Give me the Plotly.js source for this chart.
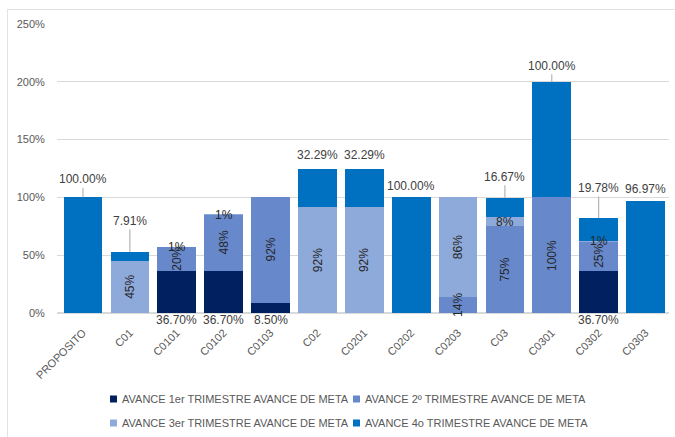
<!DOCTYPE html>
<html>
<head>
<meta charset="utf-8">
<script src="https://cdn.plot.ly/plotly-3.0.1.min.js"></script>
<style>
  html, body { margin: 0; padding: 0; background: #ffffff; }
  #wrap { position: relative; width: 675px; height: 437px; }
  #chart { position: absolute; left: 0; top: 0; width: 675px; height: 437px; }
  #frame { position: absolute; left: 7px; top: 9px; width: 668px; height: 428px;
           border-top: 1px solid #e3e3e3; border-left: 1px solid #e3e3e3;
           box-sizing: border-box; pointer-events: none; }
</style>
</head>
<body>
<div id="wrap"><div id="chart"></div><div id="frame"></div></div>
<script>
// ---- data ----
const categories = ['PROPOSITO','C01','C0101','C0102','C0103','C02','C0201','C0202','C0203','C03','C0301','C0302','C0303'];
const seriesNames = [
  'AVANCE 1er TRIMESTRE AVANCE DE META',
  'AVANCE 2º TRIMESTRE AVANCE DE META',
  'AVANCE 3er TRIMESTRE AVANCE DE META',
  'AVANCE 4o TRIMESTRE AVANCE DE META'
];
const q1 = [null, null, 36.7, 36.7, 8.5, null, null, null, null, null, null, 36.7, null];
const q2 = [null, null, 20, 48, 92, null, null, null, 14, 75, 100, 25, null];
const q3 = [null, 45, 0.6, 0.6, null, 92, 92, null, 86, 8, null, 0.6, null];
const q4 = [100, 7.91, null, null, null, 32.29, 32.29, 100, null, 16.67, 100, 19.78, 96.97];
const yTicks = [0, 50, 100, 150, 200, 250];

// ---- styling ----
const colors = ['#002060', '#6789cc', '#8eaadb', '#0070c0'];
const fontFam = '"Liberation Sans", Arial, sans-serif';
const q4Lift = [18, 31, 0, 0, 0, 14, 14, 11, 0, 21, 16, 30, 12];

const series = [q1, q2, q3, q4];
const traces = series.map((vals, i) => ({
  type: 'bar',
  name: seriesNames[i],
  x: categories,
  y: vals,
  marker: { color: colors[i] },
  hoverinfo: 'x+y+name',
  showlegend: false
}));

// label annotations computed from data
const annotations = [];
const labelFont = { family: fontFam, size: 12, color: '#262626' };
categories.forEach((c, k) => {
  let base = 0;
  series.forEach((vals, i) => {
    const v = vals[k];
    if (v == null) return;
    const mid = base + v / 2;
    const top = base + v;
    if (i === 0) {
      annotations.push({ x: c, y: 0, xref: 'x', yref: 'y', text: v.toFixed(2) + '%',
        showarrow: false, yanchor: 'top', yshift: 2, font: { family: fontFam, size: 12, color: '#404040' } });
    } else if (i === 3) {
      const lift = q4Lift[k];
      annotations.push({ x: c, y: top, xref: 'x', yref: 'y', text: v.toFixed(2) + '%',
        showarrow: lift > 15, arrowhead: 0, arrowwidth: 1, arrowcolor: '#a6a6a6',
        ax: 0, ay: -lift, yanchor: lift > 15 ? 'auto' : 'middle', yshift: lift > 15 ? 0 : lift,
        font: { family: fontFam, size: 12, color: '#404040' } });
    } else {
      const small = v < 10;
      annotations.push({ x: c, y: mid, xref: 'x', yref: 'y', text: Math.round(v) + '%',
        showarrow: false, textangle: small ? 0 : -90, font: labelFont });
    }
    base = top;
  });
});

// custom legend (squares + text)
const L = 57, T = 24, PW = 612, PH = 289;
const px2x = px => (px - L) / PW;
const py2y = py => (T + PH - py) / PH;
const shapes = [];
seriesNames.forEach((nm, i) => {
  const row = Math.floor(i / 2), col = i % 2;
  const sx = 110 + col * 243, sy = 399 + row * 24;
  shapes.push({ type: 'rect', xref: 'paper', yref: 'paper',
    x0: px2x(sx), x1: px2x(sx + 7), y0: py2y(sy + 3.5), y1: py2y(sy - 3.5),
    fillcolor: colors[i], line: { width: 0 } });
  annotations.push({ xref: 'paper', yref: 'paper', x: px2x(sx + 10), y: py2y(sy),
    xanchor: 'left', yanchor: 'middle', showarrow: false, text: nm,
    font: { family: fontFam, size: 11, color: '#595959' } });
});

const layout = {
  width: 675, height: 437,
  margin: { l: L, r: 675 - L - PW, t: T, b: 437 - T - PH, pad: 0 },
  barmode: 'stack',
  bargap: 0.175,
  paper_bgcolor: '#ffffff',
  plot_bgcolor: '#ffffff',
  font: { family: fontFam, size: 11, color: '#595959' },
  xaxis: {
    type: 'category',
    tickangle: -45,
    tickfont: { family: fontFam, size: 11, color: '#595959' },
    showgrid: false, zeroline: false, showline: false,
    ticks: 'outside', ticklen: 8, tickcolor: 'rgba(0,0,0,0)'
  },
  yaxis: {
    range: [0, 250],
    tickvals: yTicks,
    ticktext: yTicks.map(t => t + '%'),
    showgrid: true, gridcolor: '#d9d9d9', gridwidth: 1.3,
    zeroline: true, zerolinecolor: '#d9d9d9', zerolinewidth: 1.3,
    showline: false,
    ticks: 'outside', ticklen: 9, tickcolor: 'rgba(0,0,0,0)',
    tickfont: { family: fontFam, size: 11, color: '#595959' }
  },
  annotations: annotations,
  shapes: shapes,
  showlegend: false
};

Plotly.newPlot('chart', traces, layout, { displayModeBar: false, staticPlot: true });
</script>
</body>
</html>
